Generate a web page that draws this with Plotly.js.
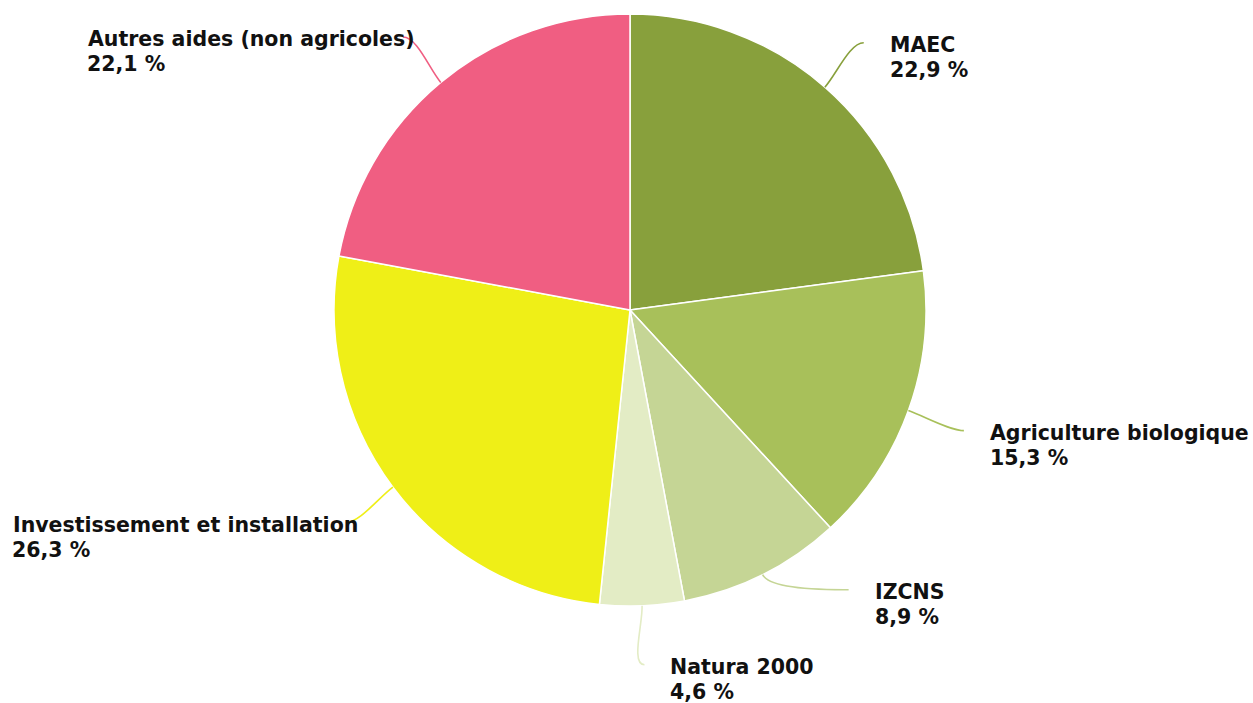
<!DOCTYPE html>
<html>
<head>
<meta charset="utf-8">
<script src="https://cdn.plot.ly/plotly-3.0.1.min.js"></script>
<style>html,body{margin:0;padding:0;background:#fff;}#chart{width:1253px;height:703px;}</style>
</head>
<body>
<div id="chart"></div>
<script>
const categories = ["MAEC", "Agriculture biologique", "IZCNS", "Natura 2000", "Investissement et installation", "Autres aides (non agricoles)"];
const values = [22.9, 15.3, 8.9, 4.6, 26.3, 22.1];
const valueLabels = ["22,9 %", "15,3 %", "8,9 %", "4,6 %", "26,3 %", "22,1 %"];
const colors = ["#88A03C", "#A8C05A", "#C5D595", "#E3ECC5", "#EFEF17", "#F05E82"];

const W = 1253, H = 703;
const CX = 630, CY = 310, R = 296;
const LR = 355, GAP = 75;

const px = x => x / W;
const py = y => 1 - y / H;

const total = values.reduce((a, b) => a + b, 0);
let cum = 0;
const items = values.map((v, i) => {
  const mid = (cum + v / 2) / total * 2 * Math.PI;
  cum += v;
  return {i, mid, right: Math.sin(mid) >= 0, y: CY - LR * Math.cos(mid)};
});

// distribute labels per side to avoid overlap
['right', 'left'].forEach(side => {
  const list = items.filter(it => (side === 'right') === it.right).sort((a, b) => b.y - a.y);
  for (let k = 1; k < list.length; k++) {
    if (list[k].y > list[k - 1].y - GAP) list[k].y = list[k - 1].y - GAP;
  }
});

const annotations = [];
const shapes = [];
items.forEach(it => {
  const dir = it.right ? 1 : -1;
  const dy = it.y - CY;
  const ex = CX + dir * Math.sqrt(Math.max(LR * LR - dy * dy, 0));
  const ey = it.y;
  const sx = CX + R * Math.sin(it.mid), sy = CY - R * Math.cos(it.mid);
  const c1x = CX + (R + 18) * Math.sin(it.mid), c1y = CY - (R + 18) * Math.cos(it.mid);
  const c2x = ex - dir * 14, c2y = ey;
  shapes.push({
    type: 'path', xref: 'paper', yref: 'paper',
    path: `M ${px(sx)} ${py(sy)} C ${px(c1x)} ${py(c1y)} ${px(c2x)} ${py(c2y)} ${px(ex)} ${py(ey)}`,
    line: {color: colors[it.i], width: 1.6}
  });
  const tx = it.right ? ex + 24 : ex + 14;
  const anchor = it.right ? 'left' : 'right';
  const lineFont = {family: 'DejaVu Sans', size: 20.5, color: '#111', weight: 'bold'};
  annotations.push({
    xref: 'paper', yref: 'paper', x: px(tx), y: py(ey + 2), xanchor: anchor, yanchor: 'middle',
    text: categories[it.i], showarrow: false, font: lineFont
  });
  annotations.push({
    xref: 'paper', yref: 'paper', x: px(tx), y: py(ey + 27), xanchor: 'left', yanchor: 'middle',
    text: valueLabels[it.i], showarrow: false, font: lineFont
  });
});

const data = [{
  type: 'pie',
  labels: categories,
  values: values,
  sort: false,
  direction: 'clockwise',
  rotation: 0,
  marker: {colors: colors, line: {color: '#ffffff', width: 1.5}},
  textinfo: 'none',
  hoverinfo: 'none',
  showlegend: false,
  domain: {x: [(CX - R) / W, (CX + R) / W], y: [1 - (CY + R) / H, 1 - (CY - R) / H]}
}];

const layout = {
  width: W, height: H,
  margin: {l: 0, r: 0, t: 0, b: 0},
  paper_bgcolor: '#ffffff',
  showlegend: false,
  annotations: annotations,
  shapes: shapes
};

Plotly.newPlot('chart', data, layout, {displayModeBar: false, staticPlot: true}).then(gd => {
  // align left-side value labels with the start of their category text
  const nodes = gd.querySelectorAll('.annotation');
  const gbb = gd.getBoundingClientRect();
  const update = {};
  for (let k = 0; k < gd.layout.annotations.length; k += 2) {
    if (gd.layout.annotations[k].xanchor === 'right') {
      const bb = nodes[k].querySelector('text').getBoundingClientRect();
      update['annotations[' + (k + 1) + '].x'] = (bb.left - gbb.left - 3) / W;
    }
  }
  return Plotly.relayout(gd, update);
});
</script>
</body>
</html>
